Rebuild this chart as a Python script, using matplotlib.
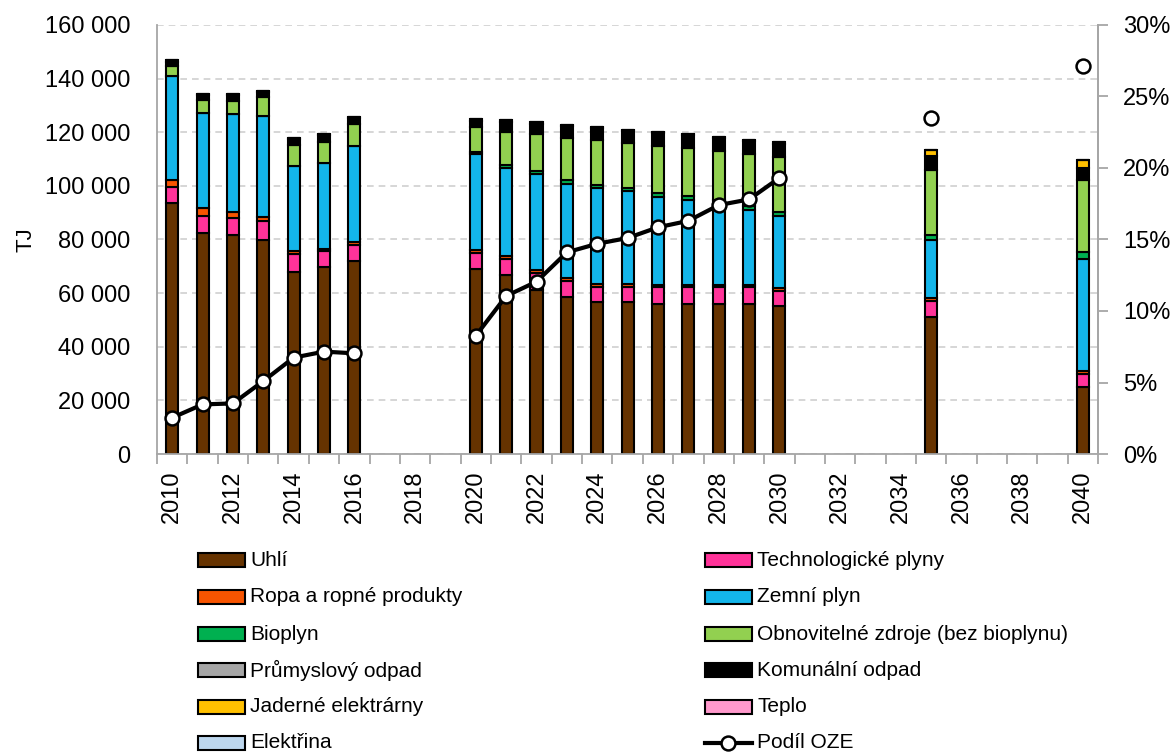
import numpy as np
import matplotlib.pyplot as plt
from matplotlib.ticker import FuncFormatter, FixedLocator
from matplotlib.patches import Rectangle
from matplotlib.lines import Line2D

plt.rcParams['font.family'] = ['Liberation Sans', 'DejaVu Sans']

years = [2010, 2011, 2012, 2013, 2014, 2015, 2016,
         2020, 2021, 2022, 2023, 2024, 2025, 2026, 2027, 2028, 2029, 2030,
         2035, 2040]

# TJ
uhli = [93500, 82300, 81700, 79900, 68000, 69900, 72100,
        69000, 66800, 61200, 58700, 56600, 56500, 56000, 56000, 56000, 56000, 55200,
        51200, 25100]
tech_plyny = [6200, 6300, 6200, 6800, 6600, 5800, 5900,
              6100, 6000, 6200, 5900, 5800, 5700, 6100, 6100, 6100, 6100, 5700,
              5900, 4600]
ropa = [2500, 3100, 2300, 1500, 1100, 900, 1100,
        1000, 1200, 1300, 1000, 1000, 1100, 1000, 1000, 1000, 1000, 900,
        1000, 1300]
zemni_plyn = [38600, 35400, 36500, 37700, 31500, 31900, 35600,
              35700, 32600, 35800, 35100, 35700, 34600, 32900, 31700, 30200, 27900, 27000,
              21800, 41600]
bioplyn = [0, 0, 0, 0, 0, 0, 300,
           900, 1000, 1100, 1500, 1300, 1200, 1300, 1500, 1500, 1500, 1600,
           1800, 2700]
oze = [3700, 4700, 4800, 7100, 8100, 8000, 8100,
       9300, 12400, 13700, 15800, 16500, 16800, 17700, 17800, 18000, 19300, 20300,
       24300, 26700]
prum_odpad = [0] * 20
kom_odpad = [1800, 2000, 2300, 1900, 2000, 2400, 2000,
             2300, 3900, 3800, 4300, 4500, 4500, 4500, 4700, 4900, 4900, 5000,
             5200, 4800]
jaderne = [500, 500, 500, 500, 500, 500, 500,
           500, 500, 500, 500, 500, 500, 500, 500, 500, 500, 500,
           2200, 2700]
teplo = [0] * 20
elektrina = [0] * 20

# podil OZE [%]
podil_oze = [2.54, 3.47, 3.54, 5.1, 6.74, 7.16, 7.04,
             8.27, 11.05, 12.05, 14.1, 14.7, 15.1, 15.85, 16.3, 17.4, 17.8, 19.3,
             23.5, 27.1]

series = [
    ("Uhlí", uhli, "#663300"),
    ("Technologické plyny", tech_plyny, "#FF3399"),
    ("Ropa a ropné produkty", ropa, "#F75400"),
    ("Zemní plyn", zemni_plyn, "#13B5EA"),
    ("Bioplyn", bioplyn, "#00B050"),
    ("Obnovitelné zdroje (bez bioplynu)", oze, "#92D050"),
    ("Průmyslový odpad", prum_odpad, "#A6A6A6"),
    ("Komunální odpad", kom_odpad, "#000000"),
    ("Jaderné elektrárny", jaderne, "#FFC000"),
    ("Teplo", teplo, "#FF99CC"),
    ("Elektřina", elektrina, "#BDD7EE"),
]

W, H = 1172, 753
fig = plt.figure(figsize=(W / 100, H / 100), dpi=100)
ax = fig.add_axes([0.134, 0.397, 0.803, 0.570])

x = np.array(years)
bottom = np.zeros(len(years))
for name, vals, col in series:
    v = np.array(vals, dtype=float)
    ax.bar(x, v, 0.4, bottom=bottom, color=col, edgecolor='black', linewidth=1.5, zorder=2)
    bottom += v

ax.set_xlim(2009.5, 2040.5)
ax.set_ylim(0, 160000)
ax.set_yticks(np.arange(0, 160001, 20000))
ax.yaxis.set_major_formatter(FuncFormatter(lambda v, p: f"{int(v):,}".replace(",", " ")))
ax.grid(axis='y', color='#D0D0D0', linestyle=(0, (4, 3)), linewidth=1.2)
ax.set_axisbelow(True)
ax.set_ylabel("TJ", fontsize=16)
ax.yaxis.set_label_coords(-0.128, 0.5)

ax.set_xticks(range(2010, 2041, 2))
ax.set_xticklabels([str(y) for y in range(2010, 2041, 2)], rotation=90)
ax.xaxis.set_minor_locator(FixedLocator(np.arange(2009.5, 2041, 1)))
ax.tick_params(axis='x', which='major', length=0, pad=12, labelsize=17)
ax.tick_params(axis='x', which='minor', length=7, width=1.3, color='#A6A6A6')
ax.tick_params(axis='y', length=0, pad=19, labelsize=17)

ax.spines['top'].set_visible(False)
for s in ['left', 'bottom', 'right']:
    ax.spines[s].set_color('#A6A6A6')
    ax.spines[s].set_linewidth(1.3)

ax2 = ax.twinx()
all_years = np.arange(2010, 2041)
share = np.full(len(all_years), np.nan)
for y, p in zip(years, podil_oze):
    share[y - 2010] = p / 100
ax2.plot(all_years, share, color='black', linewidth=3, marker='o', markersize=10,
         markerfacecolor='white', markeredgecolor='black', markeredgewidth=1.8, zorder=5)
ax2.set_ylim(0, 0.30)
ax2.set_yticks(np.arange(0, 0.301, 0.05))
ax2.yaxis.set_major_formatter(FuncFormatter(lambda v, p: f"{v*100:.0f}%"))
ax2.tick_params(axis='y', length=7, width=1.3, color='#A6A6A6', pad=11, labelsize=17)
for s in ['top', 'left', 'bottom']:
    ax2.spines[s].set_visible(False)
ax2.spines['right'].set_color('#A6A6A6')
ax2.spines['right'].set_linewidth(1.3)

# legend, two columns laid out by hand
names = [n for n, _, _ in series] + ["Podíl OZE"]
colors = [c for _, _, c in series] + [None]
row_y = [560, 597, 634, 670, 707, 743]
col_x = [198, 705]
hw, hh = 47, 14
for i, (n, c) in enumerate(zip(names, colors)):
    cx = col_x[i % 2]
    cy = row_y[i // 2]
    if c is not None:
        fig.add_artist(Rectangle((cx / W, 1 - (cy + hh / 2) / H), hw / W, hh / H,
                                 facecolor=c, edgecolor='black', linewidth=1.5,
                                 transform=fig.transFigure))
    else:
        fig.add_artist(Line2D([cx / W, (cx + hw) / W], [1 - cy / H, 1 - cy / H],
                              color='black', linewidth=3, transform=fig.transFigure))
        fig.add_artist(Line2D([(cx + hw / 2) / W], [1 - cy / H], marker='o', markersize=10,
                              markerfacecolor='white', markeredgecolor='black',
                              markeredgewidth=1.8, transform=fig.transFigure))
    fig.text((cx + hw + 5) / W, 1 - cy / H, n, fontsize=15, va='center', ha='left')

fig.savefig("out.png", dpi=100)
